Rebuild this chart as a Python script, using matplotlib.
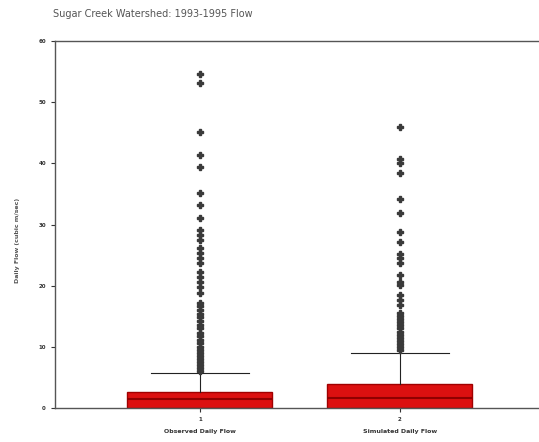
import numpy as np
import matplotlib.pyplot as plt
import matplotlib.transforms as mtransforms

title = "Sugar Creek Watershed: 1993-1995 Flow"
ylabel = "Daily Flow (cubic m/sec)"
groups = ["Observed Daily Flow", "Simulated Daily Flow"]
tick_marks = ["1", "2"]

# box statistics
q1 = [0.0, 0.0]
med = [1.5, 1.6]
q3 = [2.6, 3.9]
whis_lo = [0.0, 0.0]
whis_hi = [5.7, 9.0]

obs_fliers = [54.7, 53.1, 45.1, 41.3, 39.4, 35.1, 33.2, 31.0, 29.1, 28.3, 27.5,
              26.1, 25.3, 24.5, 23.7, 22.2, 21.4, 20.6, 19.8, 18.8, 17.2, 16.6,
              16.0, 15.4, 14.8, 14.2, 13.6, 13.0, 12.3, 11.7, 11.1, 10.6, 10.0,
              9.5, 9.0, 8.5, 8.0, 7.5, 7.0, 6.5, 6.1]
sim_fliers = [45.9, 40.7, 40.0, 38.4, 34.1, 31.9, 28.8, 27.1, 25.2, 24.5, 23.7,
              21.7, 20.6, 20.1, 18.5, 17.6, 16.8, 15.5, 15.0, 14.5, 14.0, 13.5,
              13.0, 12.5, 12.0, 11.5, 11.0, 10.5, 10.0, 9.5]

stats = []
for i, fl in enumerate([obs_fliers, sim_fliers]):
    stats.append(dict(label=tick_marks[i], q1=q1[i], med=med[i], q3=q3[i],
                      whislo=whis_lo[i], whishi=whis_hi[i], fliers=fl))

fig = plt.figure(figsize=(5.39, 4.42), dpi=100)
ax = fig.add_axes([0.102, 0.077, 0.898, 0.830])

ax.bxp(stats, positions=[1, 2], widths=0.725, capwidths=0.49, patch_artist=True,
       boxprops=dict(facecolor="#dc1010", edgecolor="#a00000", linewidth=1.0),
       medianprops=dict(color="#900000", linewidth=1.5),
       whiskerprops=dict(color="#222222", linewidth=0.8),
       capprops=dict(color="#222222", linewidth=0.8),
       flierprops=dict(marker="P", markersize=4.5, markerfacecolor="#3a3a3a",
                       markeredgecolor="#3a3a3a", linestyle="none"))

ax.set_xlim(0.275, 2.695)
ax.set_ylim(0, 60)
ax.set_yticks([0, 10, 20, 30, 40, 50, 60])
ax.tick_params(axis="both", labelsize=4, length=3, width=0.8, colors="#333333")
for lab in ax.get_yticklabels() + ax.get_xticklabels():
    lab.set_fontweight("bold")
ax.spines["right"].set_visible(False)
for s in ["left", "top", "bottom"]:
    ax.spines[s].set_color("#555555")
    ax.spines[s].set_linewidth(1.0)

trans = mtransforms.blended_transform_factory(ax.transData, fig.transFigure)
for i, g in enumerate(groups):
    ax.text(i + 1, 1 - 432 / 442, g, transform=trans, ha="center", va="center",
            fontsize=4.5, fontweight="bold", color="#333333")

fig.text(18 / 539, 1 - 240 / 442, ylabel, rotation=90, ha="center", va="center",
         fontsize=4.5, fontweight="bold", color="#555555")
fig.text(53 / 539, 1 - 14 / 442, title, ha="left", va="center",
         fontsize=7, color="#555555")

fig.savefig("out.png", dpi=100)
